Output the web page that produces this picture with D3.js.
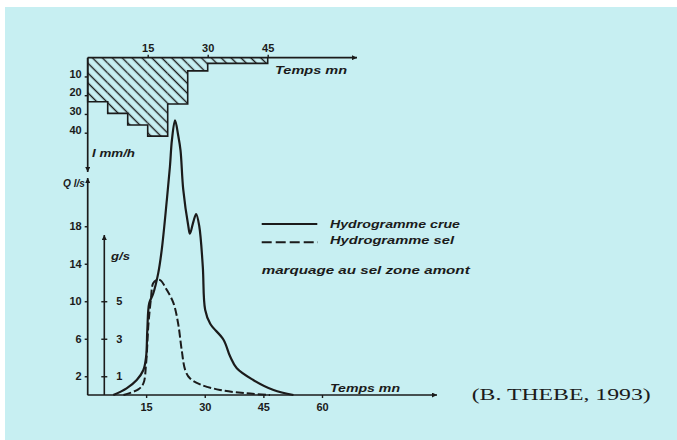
<!DOCTYPE html>
<html><head><meta charset="utf-8">
<script src="https://cdn.jsdelivr.net/npm/d3@7"></script>
<style>
html,body{margin:0;padding:0;background:#fff;}
svg{display:block;}
</style></head>
<body>
<script>
// ---- data ----
const rainStart = [0, 5, 10, 15, 20, 25, 30];
const rainEnd   = [5, 10, 15, 20, 25, 30, 45];
const rainI     = [23.5, 29.7, 35.9, 41.8, 24.7, 7.0, 3.0];   // mm/h
const rainTicks = [10, 20, 30, 40];
const topTimeTicks = [15, 30, 45];

const crueT = [6.6, 10.0, 12.6, 14.3, 15.0, 15.3, 15.8, 16.8, 18.1, 19.0, 20.3, 21.1, 21.6, 22.4, 23.2, 23.8, 24.5, 25.8, 26.2, 27.1, 27.8, 28.6, 29.5, 30.1, 31.4, 34.8, 36.5, 38.2, 42.4, 47.6, 52.7];
const crueQ = [0, 0.71, 1.6, 2.67, 4.1, 6.9, 9.8, 10.8, 13.0, 15.5, 20.8, 24.4, 27.2, 29.3, 27.7, 26.1, 21.9, 18.0, 17.2, 18.5, 19.3, 18.0, 13.7, 9.1, 7.6, 5.9, 4.1, 2.85, 1.6, 0.53, 0];   // l/s

const selT = [9.2, 13.0, 14.3, 15.0, 15.6, 16.2, 16.8, 17.7, 18.6, 20.3, 22.0, 23.2, 24.1, 25.0, 26.2, 28.8, 33.9, 40.7, 46.7];
const selG = [0, 0.3, 0.62, 1.7, 3.8, 5.07, 5.96, 6.13, 6.13, 5.6, 4.9, 3.8, 2.4, 1.33, 0.89, 0.57, 0.27, 0.09, 0];  // g/s

const qTicks = [2, 6, 10, 14, 18];
const gTicks = [1, 3, 5];
const timeTicks = [15, 30, 45, 60];

const legendLabels = ["Hydrogramme crue", "Hydrogramme sel"];
const noteLabel = "marquage au sel zone amont";
const citation = "(B. THEBE, 1993)";

// ---- drawing ----
const W = 677, H = 440;
const ink = "#1b1b1b";
const svg = d3.select("body").append("svg").attr("width", W).attr("height", H);

svg.append("rect").attr("x", 5).attr("y", 7).attr("width", W - 5).attr("height", H - 7).attr("fill", "#c7eff2");

const defs = svg.append("defs");
const pat = defs.append("pattern").attr("id", "hatch").attr("patternUnits", "userSpaceOnUse")
  .attr("width", 7).attr("height", 7).attr("patternTransform", "rotate(-45)");
pat.append("line").attr("x1", 3.5).attr("y1", 0).attr("x2", 3.5).attr("y2", 7)
  .attr("stroke", ink).attr("stroke-width", 1.4);
function marker(id, w, l) {
  defs.append("marker").attr("id", id).attr("viewBox", "0 -5 10 10").attr("refX", 10).attr("refY", 0)
    .attr("markerUnits", "userSpaceOnUse").attr("markerWidth", l).attr("markerHeight", w).attr("orient", "auto")
    .append("path").attr("d", "M0,-5L10,0L0,5Z").attr("fill", ink);
}
marker("arr", 5, 7);

const font = "'Liberation Sans', Arial, sans-serif";

// scales
const xTop = d3.scaleLinear().domain([0, 45]).range([87.7, 267.7]);
const yRain = d3.scaleLinear().domain([0, 40]).range([57.7, 132.7]);
const xBot = d3.scaleLinear().domain([0, 60]).range([87.5, 322]);
const yQ = d3.scaleLinear().domain([0, 18]).range([395, 226.25]);
const yG = d3.scaleLinear().domain([0, 5]).range([395, 301.25]);

// hyetogram
const rain = rainI.map((v, i) => ({s: rainStart[i], e: rainEnd[i], v}));
svg.append("g").selectAll("rect").data(rain).join("rect")
  .attr("x", d => xTop(d.s)).attr("y", yRain(0))
  .attr("width", d => xTop(d.e) - xTop(d.s)).attr("height", d => yRain(d.v) - yRain(0))
  .attr("fill", "url(#hatch)");
const outlinePts = [[0, 0]].concat(rain.map(d => [d.s, d.v]), [[45, rain[rain.length - 1].v], [45, 0]]);
svg.append("path").attr("d", d3.line().x(d => xTop(d[0])).y(d => yRain(d[1])).curve(d3.curveStepAfter)(outlinePts))
  .attr("fill", "none").attr("stroke", ink).attr("stroke-width", 1.6);

// top time axis
svg.append("line").attr("x1", xTop(0)).attr("x2", 357).attr("y1", yRain(0)).attr("y2", yRain(0))
  .attr("stroke", ink).attr("stroke-width", 1.7).attr("marker-end", "url(#arr)");
const gTop = svg.append("g").attr("transform", `translate(0,${yRain(0)})`)
  .call(d3.axisTop(xTop).tickValues(topTimeTicks).tickSize(3).tickPadding(3));
gTop.select(".domain").remove();

// rain axis ticks
const gRain = svg.append("g").attr("transform", `translate(${xTop(0)},0)`)
  .call(d3.axisLeft(yRain).tickValues(rainTicks).tickSize(3).tickPadding(3));
gRain.select(".domain").remove();
gRain.selectAll("text").attr("dy", "0.05em");

// left vertical axes
svg.append("line").attr("x1", 87.7).attr("x2", 87.7).attr("y1", yRain(0)).attr("y2", 172)
  .attr("stroke", ink).attr("stroke-width", 1.7).attr("marker-end", "url(#arr)");
svg.append("line").attr("x1", 87.7).attr("x2", 87.7).attr("y1", yQ(0)).attr("y2", 178)
  .attr("stroke", ink).attr("stroke-width", 1.7).attr("marker-end", "url(#arr)");

const gQ = svg.append("g").attr("transform", `translate(87.7,0)`)
  .call(d3.axisLeft(yQ).tickValues(qTicks).tickSize(3).tickPadding(3));
gQ.select(".domain").remove();

// g/s axis
const xg = 104.3;
svg.append("line").attr("x1", xg).attr("x2", xg).attr("y1", yG(0)).attr("y2", 235)
  .attr("stroke", ink).attr("stroke-width", 1.6).attr("marker-end", "url(#arr)");
const gG = svg.append("g").attr("transform", `translate(${xg},0)`)
  .call(d3.axisRight(yG).tickValues(gTicks).tickFormat(d3.format("d")).tickSize(3).tickPadding(9));
gG.select(".domain").remove();
gG.selectAll(".tick line").attr("x1", -3);

// bottom time axis
svg.append("line").attr("x1", xBot(0)).attr("x2", 437).attr("y1", yQ(0)).attr("y2", yQ(0))
  .attr("stroke", ink).attr("stroke-width", 1.7).attr("marker-end", "url(#arr)");
const gBot = svg.append("g").attr("transform", `translate(0,${yQ(0)})`)
  .call(d3.axisBottom(xBot).tickValues(timeTicks).tickSize(3).tickPadding(5));
gBot.select(".domain").remove();

svg.selectAll(".tick line").attr("stroke", ink).attr("stroke-width", 1.4);
svg.selectAll(".tick text").attr("fill", ink).attr("font-family", font).attr("font-size", 11).attr("font-weight", "bold");

// curves
const crue = crueT.map((t, i) => ({t, v: crueQ[i]}));
const sel = selT.map((t, i) => ({t, v: selG[i]}));
svg.append("path").attr("d", d3.line().x(d => xBot(d.t)).y(d => yQ(d.v)).curve(d3.curveCatmullRom.alpha(0.5))(crue))
  .attr("fill", "none").attr("stroke", ink).attr("stroke-width", 2.2).attr("stroke-linejoin", "round");
svg.append("path").attr("d", d3.line().x(d => xBot(d.t)).y(d => yG(d.v)).curve(d3.curveCatmullRom.alpha(0.5))(sel))
  .attr("fill", "none").attr("stroke", ink).attr("stroke-width", 2).attr("stroke-dasharray", "8,3");

// labels
function label(txt, x, y, len, size, opts = {}) {
  return svg.append("text").attr("x", x).attr("y", y).text(txt)
    .attr("font-family", opts.family || font).attr("font-size", size)
    .attr("font-style", opts.style || "italic").attr("font-weight", opts.weight || "bold")
    .attr("fill", ink).attr("textLength", len).attr("lengthAdjust", "spacingAndGlyphs");
}
label("Temps  mn", 275, 74, 72, 10.5);
label("Temps  mn", 330, 392, 70, 10.5);
label("I mm/h", 92, 157, 43, 10.5);
label("Q l/s", 63, 187, 22, 10);
label("g/s", 111, 260, 19, 10.5);

// legend
svg.append("line").attr("x1", 261.7).attr("x2", 317.3).attr("y1", 224).attr("y2", 224)
  .attr("stroke", ink).attr("stroke-width", 2);
svg.append("line").attr("x1", 261.7).attr("x2", 318).attr("y1", 242.3).attr("y2", 242.3)
  .attr("stroke", ink).attr("stroke-width", 2).attr("stroke-dasharray", "10,4");
label(legendLabels[0], 330, 228.3, 130, 10.5);
label(legendLabels[1], 330, 243.7, 124, 10.5);
label(noteLabel, 261.7, 274, 208, 10.5);

label(citation, 471.7, 400, 179, 16, {family: "'Liberation Serif', 'Times New Roman', serif", style: "normal", weight: "normal"});
</script>
</body></html>
